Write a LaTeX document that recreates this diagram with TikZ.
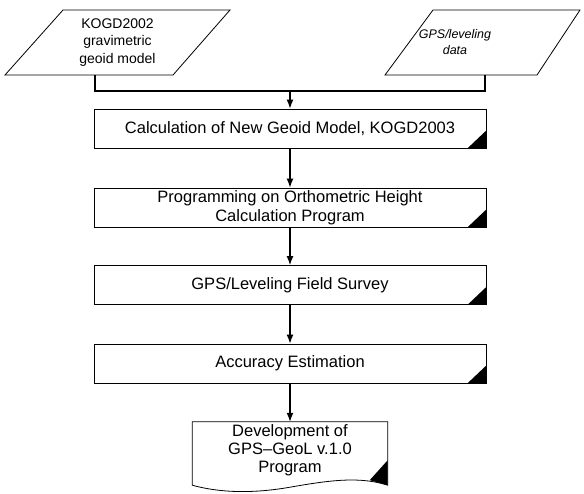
\documentclass[tikz,border=0pt]{standalone}
\usepackage{fontspec}
\setmainfont{Liberation Sans}
\usetikzlibrary{arrows.meta}

\tikzset{
	procbox/.style={draw, line width=0.8pt, minimum width=392pt, minimum height=39pt, inner sep=0pt, align=center, font=\fontsize{16.5}{19}\selectfont},
	datain/.style={line width=0.8pt},
	flow/.style={line width=1.3pt, -{Latex[length=9pt,width=7pt]}},
}

\begin{document}
\begin{tikzpicture}[x=1pt,y=-1pt]
	\useasboundingbox (0,0) rectangle (584,493);

	%input data, corners clockwise from top left
	\coordinate (a) at (63,10);
	\coordinate (b) at (230,10);
	\coordinate (c) at (173,75);
	\coordinate (d) at (5,75);
	\coordinate (e) at (433,10);
	\coordinate (f) at (580,10);
	\coordinate (g) at (537,75);
	\coordinate (h) at (385,75);
	\draw[datain] (a) -- (b) -- (c) -- (d) -- cycle;
	\draw[datain] (e) -- (f) -- (g) -- (h) -- cycle;
	\node[align=center, font=\fontsize{14}{17.5}\selectfont] (kogd) at (117.5,42.5) {KOGD2002\\gravimetric\\geoid model};
	\node[align=center, font=\fontsize{12.5}{16.5}\selectfont\itshape] (gps) at (455,42) {GPS/leveling\\data};

	%process steps
	\node[procbox] (calc) at (290,128.5) {Calculation of New Geoid Model, KOGD2003};
	\node[procbox] (prog) at (290,207.5) {Programming on Orthometric Height\\Calculation Program};
	\node[procbox] (survey) at (290,285) {GPS/Leveling Field Survey};
	\node[procbox] (accu) at (290,363.5) {Accuracy Estimation};

	%document at the end
	\node[minimum width=195pt, minimum height=56pt, inner sep=0pt, align=center, font=\fontsize{16.5}{18}\selectfont] (dev) at (290,450) {Development of\\GPS--GeoL v.1.0\\Program};
	\draw[line width=0.8pt] (dev.north west) -- (dev.north east) -- ([yshift=-7pt]dev.south east)
		.. controls +(-28,-9) and +(40,-7) .. ([yshift=-9pt]dev.south)
		.. controls +(-40,7) and +(25,7) .. ([yshift=-7pt]dev.south west) -- cycle;

	%black corners
	\foreach \b in {calc,prog,survey,accu}
		\fill (\b.south east) -- ([xshift=-19pt]\b.south east) -- ([yshift=18pt]\b.south east) -- cycle;
	\fill ([yshift=-7pt]dev.south east) -- ([xshift=-18pt,yshift=-2pt]dev.south east) -- ([yshift=18pt]dev.south east) -- cycle;

	%connectors
	\coordinate (kogdout) at (95,75);
	\coordinate (gpsout) at (485,75);
	\coordinate (join) at (290,91);
	\draw[line width=1.3pt] (kogdout) |- (join) -| (gpsout);
	\draw[flow] (join) -- (calc);
	\draw[flow] (calc) -- (prog);
	\draw[flow] (prog) -- (survey);
	\draw[flow] (survey) -- (accu);
	\draw[flow] (accu) -- (dev);
\end{tikzpicture}
\end{document}
